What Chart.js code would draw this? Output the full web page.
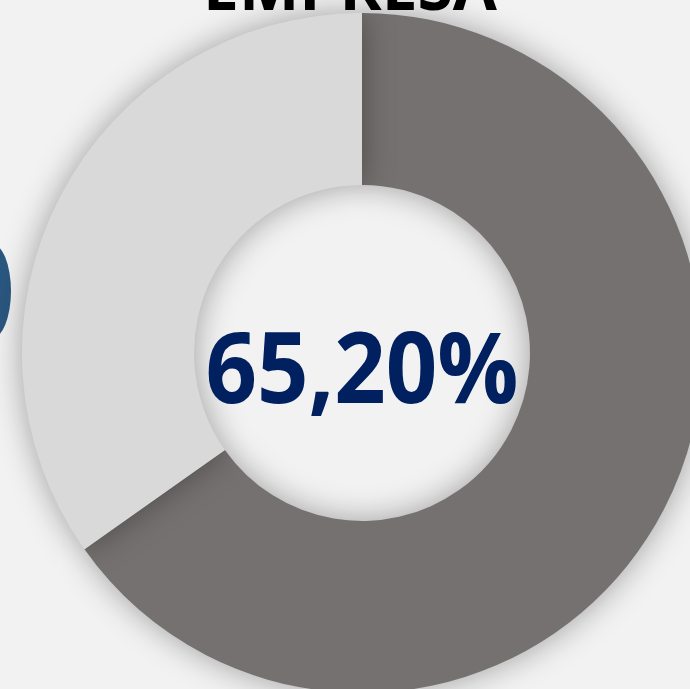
<!DOCTYPE html>
<html lang="es">
<head>
<meta charset="UTF-8" />
<title>Empresa</title>
<script src="https://cdn.jsdelivr.net/npm/chart.js"></script>
<style>
    body {
        background-color: #f2f2f2;
        margin: 0;
        width: 690px;
        height: 689px;
        overflow: hidden;
        position: relative;
    }

    #wrap {
        position: absolute;
        left: 0;
        top: 0;
        width: 724px;
        height: 706px;
    }

    #blob {
        position: absolute;
        left: -29px;
        top: 243px;
        width: 40px;
        height: 96px;
        border-radius: 50%;
        background: #2a5780;
    }
</style>
</head>
<body>
<div id="blob"></div>
<div id="wrap"><canvas id="dona"></canvas></div>

<script>
    const titulo = 'EMPRESA';
    const categorias = ['Empresa', 'Resto'];
    const valores = [65.2, 34.8];
    const colores = ['#757171', '#d9d9d9'];

    const etiqueta = valores[0].toFixed(2).replace('.', ',') + '%';

    // sombra suave alrededor del anillo
    const sombra = {
        id: 'sombra',
        beforeDatasetsDraw(chart) {
            const ctx = chart.ctx;
            ctx.save();
            ctx.shadowColor = 'rgba(0,0,0,0.35)';
            ctx.shadowBlur = 32;
        },
        afterDatasetsDraw(chart) {
            chart.ctx.restore();
        }
    };

    const textos = {
        id: 'textos',
        afterDraw(chart) {
            const ctx = chart.ctx;
            const arc = chart.getDatasetMeta(0).data[0];
            ctx.save();
            ctx.textAlign = 'center';
            ctx.textBaseline = 'alphabetic';

            // valor central
            ctx.fillStyle = '#002060';
            ctx.font = 'bold 98px "Open Sans"';
            const w = ctx.measureText(etiqueta).width;
            const target = 313;
            ctx.translate(arc.x, 403);
            if (w > target) ctx.scale(target / w, 1);
            ctx.fillText(etiqueta, 0, 0);
            ctx.restore();

            // título (cortado arriba)
            ctx.save();
            ctx.textAlign = 'center';
            ctx.fillStyle = '#000000';
            ctx.font = 'bold 64px "Open Sans"';
            ctx.fillText(titulo, 350, 10);
            ctx.restore();
        }
    };

    new Chart(document.getElementById('dona'), {
        type: 'doughnut',
        data: {
            labels: categorias,
            datasets: [{
                data: valores,
                backgroundColor: colores,
                borderWidth: 0
            }]
        },
        options: {
            responsive: true,
            maintainAspectRatio: false,
            animation: false,
            cutout: '49.4%',
            layout: { padding: { left: 22, top: 13, right: 22, bottom: 13 } },
            plugins: {
                legend: { display: false },
                tooltip: { enabled: false }
            }
        },
        plugins: [sombra, textos]
    });
</script>
</body>
</html>
